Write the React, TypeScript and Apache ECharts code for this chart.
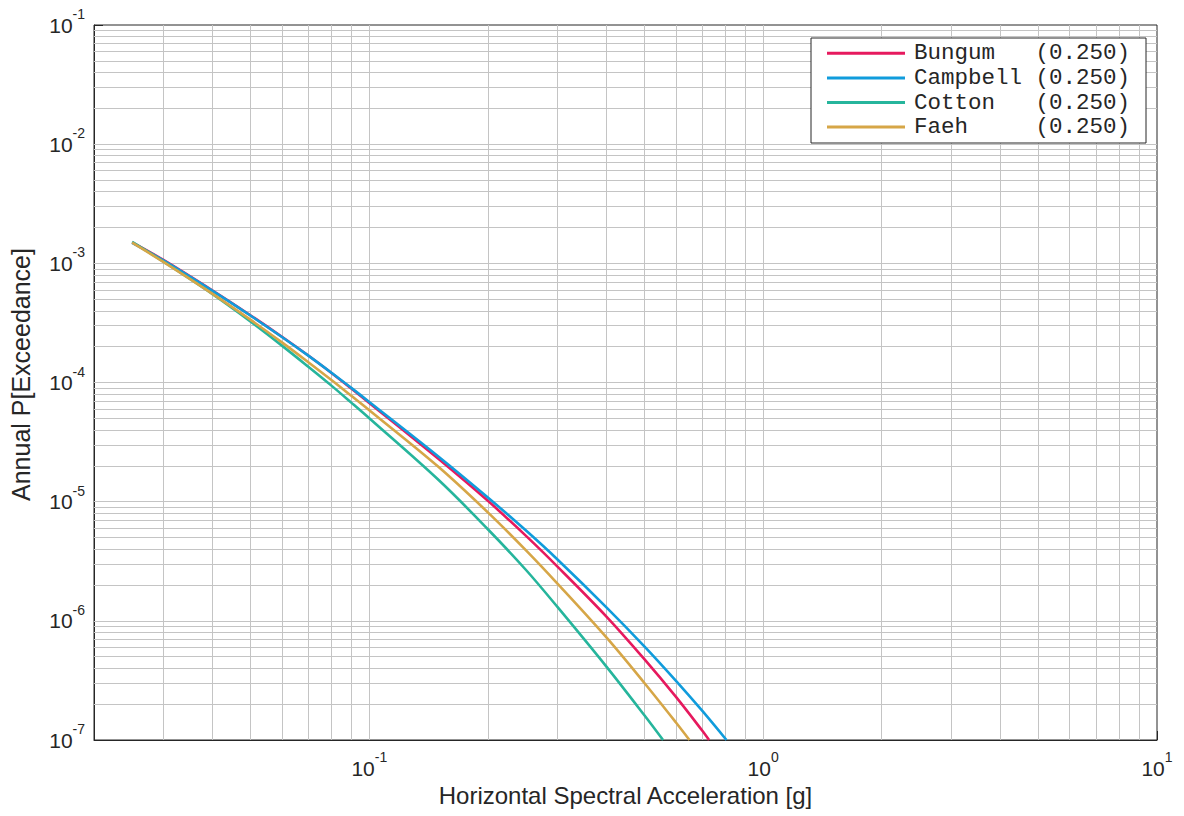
import React, { useEffect, useRef } from "react";
import * as echarts from "echarts";

// ---- data ----
const SERIES_NAMES = ["Bungum", "Campbell", "Cotton", "Faeh"];
const WEIGHTS = [0.25, 0.25, 0.25, 0.25];
const COLORS = ["#E6195E", "#109CDC", "#26B59C", "#D6A647"];

const BUNGUM_X = [0.025, 0.03, 0.04, 0.05, 0.06, 0.07, 0.08, 0.09, 0.1, 0.15, 0.2, 0.25, 0.3, 0.4, 0.5, 0.6, 0.7, 0.729];
const BUNGUM_Y = [1.497e-3, 1.068e-3, 5.91e-4, 3.65e-4, 2.42e-4, 1.684e-4, 1.209e-4, 8.91e-5, 6.74e-5, 2.277e-5, 1.016e-5, 5.16e-6, 2.866e-6, 1.087e-6, 4.75e-7, 2.31e-7, 1.201e-7, 1e-7];

const CAMPBELL_X = [0.025, 0.03, 0.04, 0.05, 0.06, 0.07, 0.08, 0.09, 0.1, 0.15, 0.2, 0.25, 0.3, 0.4, 0.5, 0.6, 0.7, 0.807];
const CAMPBELL_Y = [1.483e-3, 1.057e-3, 5.87e-4, 3.63e-4, 2.41e-4, 1.681e-4, 1.213e-4, 9.01e-5, 6.87e-5, 2.385e-5, 1.084e-5, 5.72e-6, 3.29e-6, 1.298e-6, 6.08e-7, 3.15e-7, 1.761e-7, 1e-7];

const COTTON_X = [0.025, 0.03, 0.04, 0.05, 0.06, 0.07, 0.08, 0.09, 0.1, 0.15, 0.2, 0.25, 0.3, 0.4, 0.5, 0.557];
const COTTON_Y = [1.511e-3, 1.033e-3, 5.51e-4, 3.24e-4, 2.04e-4, 1.357e-4, 9.46e-5, 6.78e-5, 5.01e-5, 1.518e-5, 5.87e-6, 2.67e-6, 1.315e-6, 4.13e-7, 1.605e-7, 1e-7];

const FAEH_X = [0.025, 0.03, 0.04, 0.05, 0.06, 0.07, 0.08, 0.09, 0.1, 0.15, 0.2, 0.25, 0.3, 0.4, 0.5, 0.6, 0.65];
const FAEH_Y = [1.49e-3, 1.027e-3, 5.54e-4, 3.35e-4, 2.17e-4, 1.48e-4, 1.054e-4, 7.73e-5, 5.85e-5, 1.952e-5, 8.13e-6, 3.9e-6, 2.064e-6, 7.26e-7, 2.996e-7, 1.41e-7, 1e-7];

const SERIES_X = [BUNGUM_X, CAMPBELL_X, COTTON_X, FAEH_X];
const SERIES_Y = [BUNGUM_Y, CAMPBELL_Y, COTTON_Y, FAEH_Y];

// axis ranges and grid decades
const X_MIN = 0.02;
const X_MAX = 10;
const Y_MIN = 1e-7;
const Y_MAX = 1e-1;
const X_DECADES = [0.01, 0.1, 1];
const Y_DECADES = [1e-7, 1e-6, 1e-5, 1e-4, 1e-3, 1e-2];
const GRID_MULTIPLIERS = [1, 2, 3, 4, 5, 6, 7, 8, 9];

const X_TITLE = "Horizontal Spectral Acceleration [g]";
const Y_TITLE = "Annual P[Exceedance]";

const SANS = "'Liberation Sans', Arial, Helvetica, sans-serif";
const MONO = "'Courier New', 'Liberation Mono', monospace";
const TEXT_COLOR = "#262626";
const GRID_COLOR = "#c4c4c4";

function gridValues(decades: number[], lo: number, hi: number) {
  const out: number[] = [];
  decades.forEach((d) =>
    GRID_MULTIPLIERS.forEach((m) => {
      const v = parseFloat((m * d).toPrecision(6));
      if (v > lo * 1.0001 && v < hi * 0.9999) out.push(v);
    })
  );
  return out;
}

function powLabel(v: number) {
  const e = Math.round(Math.log10(v));
  if (Math.abs(Math.log10(v) - e) > 1e-6) return "";
  return `{b|10}{s|${e}}`;
}

const labelRich = {
  b: { fontSize: 21, fontFamily: SANS, color: TEXT_COLOR, lineHeight: 36 },
  s: { fontSize: 14, fontFamily: SANS, color: TEXT_COLOR, lineHeight: 14, verticalAlign: "top" },
};

const LEGEND_FONT = 22.5;

export default function App() {
  const ref = useRef<HTMLDivElement>(null);

  useEffect(() => {
    if (!ref.current) return;
    const chart = echarts.init(ref.current, null, { renderer: "svg" });

    const xGrid = gridValues(X_DECADES, X_MIN, X_MAX);
    const yGrid = gridValues(Y_DECADES, Y_MIN, Y_MAX);

    const lineSeries = SERIES_NAMES.map((name, i) => ({
      name,
      type: "line",
      data: SERIES_X[i].map((x, j) => [x, SERIES_Y[i][j]]),
      showSymbol: false,
      symbol: "none",
      smooth: 0.35,
      clip: true,
      z: 3,
      lineStyle: { color: COLORS[i], width: 2.6 },
      itemStyle: { color: COLORS[i] },
      emphasis: { disabled: true },
    }));

    const gridSeries = {
      name: "__grid",
      type: "line",
      data: [],
      silent: true,
      z: 1,
      markLine: {
        silent: true,
        precision: 20,
        z: 1,
        symbol: ["none", "none"],
        label: { show: false },
        emphasis: { disabled: true },
        animation: false,
        lineStyle: { color: GRID_COLOR, width: 1, type: "solid" },
        data: [...xGrid.map((v) => ({ xAxis: v })), ...yGrid.map((v) => ({ yAxis: v }))],
      },
    };

    const charW = 0.6 * LEGEND_FONT;

    chart.setOption({
      animation: false,
      backgroundColor: "#ffffff",
      grid: {
        left: 94,
        top: 25,
        right: 27,
        bottom: 76,
        show: true,
        borderColor: TEXT_COLOR,
        borderWidth: 1,
        backgroundColor: "transparent",
      },
      legend: {
        data: SERIES_NAMES,
        orient: "vertical",
        left: 811,
        top: 38,
        z: 10,
        padding: [3, 16, 3.6, 16],
        itemGap: 0,
        itemWidth: 78,
        itemHeight: 3,
        icon: "rect",
        borderColor: TEXT_COLOR,
        borderWidth: 1,
        backgroundColor: "#ffffff",
        selectedMode: false,
        formatter: (name: string) => {
          const i = SERIES_NAMES.indexOf(name);
          return `{n|${name}}{v|(${WEIGHTS[i].toFixed(3)})}`;
        },
        textStyle: {
          fontFamily: MONO,
          fontSize: LEGEND_FONT,
          lineHeight: 24.6,
          color: TEXT_COLOR,
          rich: {
            n: { fontFamily: MONO, fontSize: LEGEND_FONT, color: TEXT_COLOR, lineHeight: 24.6, width: charW * 9, padding: [0, 0, 0, 4] },
            v: { fontFamily: MONO, fontSize: LEGEND_FONT, color: TEXT_COLOR, lineHeight: 24.6 },
          },
        },
      },
      xAxis: {
        type: "log",
        logBase: 10,
        min: X_MIN,
        max: X_MAX,
        name: X_TITLE,
        nameLocation: "middle",
        nameGap: 43,
        nameTextStyle: { fontFamily: SANS, fontSize: 24, color: TEXT_COLOR },
        axisLine: { show: true, lineStyle: { color: TEXT_COLOR, width: 1 } },
        axisTick: { show: true, inside: true, length: 9, lineStyle: { color: TEXT_COLOR } },
        splitLine: { show: false },
        minorTick: { show: false },
        axisLabel: {
          margin: 10,
          showMinLabel: false,
          formatter: (v: number) => powLabel(v),
          rich: labelRich,
        },
      },
      yAxis: {
        type: "log",
        logBase: 10,
        min: Y_MIN,
        max: Y_MAX,
        name: Y_TITLE,
        nameLocation: "middle",
        nameGap: 61,
        nameTextStyle: { fontFamily: SANS, fontSize: 25, color: TEXT_COLOR, padding: [0, 0, 0, 16] },
        axisLine: { show: true, lineStyle: { color: TEXT_COLOR, width: 1 } },
        axisTick: { show: true, inside: true, length: 9, lineStyle: { color: TEXT_COLOR } },
        splitLine: { show: false },
        minorTick: { show: false },
        axisLabel: {
          margin: 9,
          formatter: (v: number) => powLabel(v),
          rich: labelRich,
        },
      },
      series: [gridSeries, ...lineSeries],
    });

    return () => chart.dispose();
  }, []);

  return (
    <div
      ref={ref}
      style={{ position: "fixed", left: 0, top: 0, width: 1184, height: 816, background: "#fff" }}
    />
  );
}
